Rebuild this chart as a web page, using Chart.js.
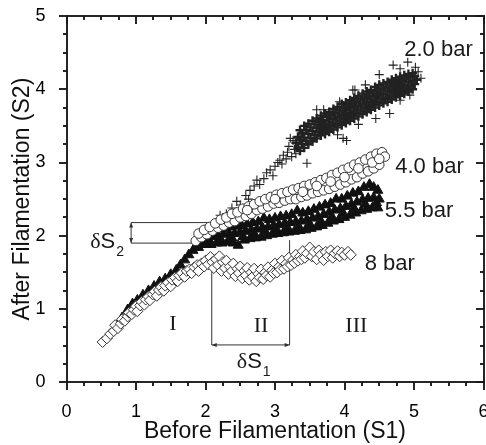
<!DOCTYPE html>
<html><head><meta charset="utf-8">
<script src="https://cdn.jsdelivr.net/npm/chart.js@4/dist/chart.umd.min.js"></script>
<style>html,body{margin:0;padding:0;background:#fff}canvas{display:block}</style>
</head><body>
<canvas id="c" width="486" height="445"></canvas>
<script>
// ---------- data ----------
const seriesNames = ['2.0 bar', '4.0 bar', '5.5 bar', '8 bar'];
const xTickLabels = ['0', '1', '2', '3', '4', '5', '6'];
const yTickLabels = ['0', '1', '2', '3', '4', '5'];
const xTitle = 'Before Filamentation (S1)';
const yTitle = 'After Filamentation (S2)';
const regionLabels = ['I', 'II', 'III'];

// 2.0 bar (+), dense core of the cloud
const bar20Dense = [
 [3.36,3.44],[3.42,3.5],[3.48,3.53],[3.54,3.57],[3.6,3.6],[3.66,3.64],[3.72,3.67],[3.78,3.69],[3.84,3.73],[3.9,3.76],[3.96,3.8],[4.02,3.82],[4.08,3.85],[4.14,3.88],[4.2,3.91],[4.26,3.94],[4.32,3.97],[4.38,3.99],[4.44,4.03],[4.5,4.06],[4.56,4.08],[4.62,4.1],[4.68,4.13],[4.74,4.15],[4.8,4.17],[4.86,4.19],[4.92,4.21],[4.98,4.22],
 [3.33,3.35],[3.39,3.4],[3.45,3.44],[3.51,3.48],[3.57,3.52],[3.63,3.56],[3.69,3.58],[3.75,3.62],[3.81,3.65],[3.87,3.68],[3.93,3.71],[3.99,3.74],[4.05,3.77],[4.11,3.8],[4.17,3.83],[4.23,3.86],[4.29,3.88],[4.35,3.91],[4.41,3.94],[4.47,3.97],[4.53,4.0],[4.59,4.02],[4.65,4.05],[4.71,4.07],[4.77,4.1],[4.83,4.12],[4.89,4.15],[4.95,4.17],[5.01,4.18],
 [3.3,3.27],[3.36,3.31],[3.42,3.34],[3.48,3.39],[3.54,3.43],[3.6,3.47],[3.66,3.5],[3.72,3.53],[3.78,3.56],[3.84,3.59],[3.9,3.62],[3.96,3.65],[4.02,3.68],[4.08,3.71],[4.14,3.74],[4.2,3.77],[4.26,3.8],[4.32,3.83],[4.38,3.86],[4.44,3.89],[4.5,3.92],[4.56,3.94],[4.62,3.97],[4.68,3.99],[4.74,4.02],[4.8,4.04],[4.86,4.06],[4.92,4.09],[4.98,4.11],[5.04,4.13],
 [3.33,3.2],[3.39,3.25],[3.45,3.29],[3.51,3.33],[3.57,3.37],[3.63,3.41],[3.69,3.44],[3.75,3.47],[3.81,3.5],[3.87,3.53],[3.93,3.56],[3.99,3.59],[4.05,3.62],[4.11,3.65],[4.17,3.68],[4.23,3.71],[4.29,3.74],[4.35,3.77],[4.41,3.8],[4.47,3.83],[4.53,3.86],[4.59,3.88],[4.65,3.91],[4.71,3.94],[4.77,3.96],[4.83,3.98],[4.89,4.01],[4.95,4.04],[5.01,4.07],
 [3.36,3.16],[3.42,3.2],[3.48,3.25],[3.54,3.29],[3.6,3.33],[3.66,3.37],[3.72,3.39],[3.78,3.42],[3.84,3.45],[3.9,3.48],[3.96,3.51],[4.02,3.54],[4.08,3.57],[4.14,3.6],[4.2,3.63],[4.26,3.66],[4.32,3.69],[4.38,3.72],[4.44,3.75],[4.5,3.78],[4.56,3.81],[4.62,3.83],[4.68,3.86],[4.74,3.89],[4.8,3.91],[4.86,3.94],[4.92,3.97],[4.98,4.0]
];
// 2.0 bar (+), scattered points around the core
const bar20Sparse = [
 [2.05,2.12],[2.21,2.28],[2.3,2.3],[2.38,2.38],[2.45,2.47],[2.5,2.42],[2.58,2.55],[2.62,2.5],[2.64,2.62],[2.7,2.68],[2.74,2.76],[2.78,2.7],[2.84,2.78],[2.88,2.86],[2.93,2.9],[2.97,2.82],[3.0,2.95],[3.04,3.0],[3.07,3.03],[3.1,2.98],[3.12,3.1],[3.16,3.05],[3.18,3.14],[3.2,3.22],[3.22,3.33],[3.24,3.08],[3.26,3.3],[3.28,3.18],[3.3,3.12],[3.46,2.99],
 [4.03,3.3],[3.98,3.33],[4.12,3.99],[4.15,3.99],[3.93,3.83],[3.7,3.72],[3.6,3.72],[4.3,4.06],[4.5,4.2],[4.65,3.67],[4.8,3.85],[4.94,3.92],[4.7,4.33],[4.91,4.37],[5.06,4.24],[5.02,4.3],[5.1,4.15],[4.8,4.28],[4.45,3.6],[4.2,3.52],[3.9,3.38]
];

// 4.0 bar (open circles)
const bar40 = [
 [1.86,1.93],[1.94,1.98],[2.02,2.02],[2.1,2.07],[2.18,2.11],[2.26,2.14],[2.34,2.18],[2.42,2.2],[2.5,2.25],[2.58,2.27],[2.66,2.3],[2.74,2.35],[2.82,2.37],[2.9,2.4],[2.98,2.44],[3.06,2.45],[3.14,2.48],[3.22,2.5],[3.3,2.5],[3.38,2.53],[3.46,2.55],[3.54,2.58],[3.62,2.6],[3.7,2.62],[3.78,2.64],[3.86,2.67],[3.94,2.7],[4.02,2.73],[4.1,2.77],[4.18,2.8],[4.26,2.85],[4.34,2.88],[4.42,2.92],[4.5,2.97],
 [1.9,2.03],[1.98,2.08],[2.06,2.12],[2.14,2.17],[2.22,2.22],[2.3,2.25],[2.38,2.3],[2.46,2.32],[2.54,2.37],[2.62,2.4],[2.7,2.43],[2.78,2.47],[2.86,2.5],[2.94,2.53],[3.02,2.56],[3.1,2.58],[3.18,2.6],[3.26,2.63],[3.34,2.65],[3.42,2.68],[3.5,2.7],[3.58,2.73],[3.66,2.76],[3.74,2.79],[3.82,2.83],[3.9,2.86],[3.98,2.9],[4.06,2.93],[4.14,2.97],[4.22,3.0],[4.3,3.04],[4.38,3.08],[4.46,3.12],[4.54,3.14],[4.58,3.08],
 [2.6,2.35],[3.0,2.5],[3.4,2.6],[3.6,2.68],[3.8,2.74],[4.0,2.8],[4.2,2.92],[4.4,3.0],[4.5,3.05]
];

// 5.5 bar (filled triangles)
const bar55 = [
 [0.72,0.77],[0.8,0.88],[0.88,0.99],[0.95,1.07],[1.02,1.12],[1.1,1.19],[1.18,1.25],[1.26,1.31],[1.34,1.37],[1.42,1.41],[1.5,1.47],[1.58,1.53],[1.64,1.6],[1.7,1.67],[1.76,1.74],[1.82,1.8],[1.86,1.85],[1.9,1.84],[1.93,1.92],[1.96,1.88],
 [2.0,1.88],[2.08,1.88],[2.16,1.9],[2.24,1.9],[2.32,1.92],[2.4,1.9],[2.47,1.87],[2.56,1.94],[2.64,1.96],[2.72,1.97],[2.8,1.98],[2.88,2.0],[2.96,2.02],[3.04,2.03],[3.12,2.04],[3.2,2.05],[3.28,2.06],[3.36,2.07],[3.44,2.08],[3.52,2.1],[3.6,2.12],[3.68,2.14],[3.76,2.17],[3.84,2.2],[3.92,2.22],[4.0,2.25],[4.08,2.28],[4.16,2.31],[4.24,2.34],[4.32,2.36],[4.4,2.38],[4.48,2.38],
 [2.02,1.97],[2.1,1.99],[2.18,2.0],[2.26,2.02],[2.34,2.03],[2.42,2.03],[2.5,2.05],[2.58,2.06],[2.66,2.08],[2.74,2.09],[2.82,2.11],[2.9,2.12],[2.98,2.14],[3.06,2.15],[3.14,2.17],[3.22,2.18],[3.3,2.19],[3.38,2.2],[3.46,2.22],[3.54,2.24],[3.62,2.26],[3.7,2.29],[3.78,2.32],[3.86,2.35],[3.94,2.37],[4.02,2.4],[4.1,2.43],[4.18,2.46],[4.26,2.49],[4.34,2.51],[4.42,2.52],[4.5,2.5],
 [2.04,2.05],[2.12,2.07],[2.2,2.09],[2.28,2.1],[2.36,2.12],[2.44,2.13],[2.52,2.14],[2.6,2.16],[2.68,2.18],[2.76,2.19],[2.84,2.24],[2.92,2.22],[3.0,2.24],[3.08,2.26],[3.16,2.27],[3.24,2.29],[3.32,2.34],[3.4,2.31],[3.48,2.33],[3.56,2.36],[3.64,2.39],[3.72,2.42],[3.8,2.44],[3.88,2.5],[3.96,2.5],[4.04,2.54],[4.12,2.58],[4.2,2.6],[4.28,2.66],[4.36,2.7],[4.42,2.66],[4.48,2.62],
 [2.06,1.93],[2.22,1.95],[2.38,1.97],[2.54,1.99],[2.7,2.03],[2.86,2.06],[3.02,2.09],[3.18,2.11],[3.34,2.13],[3.5,2.16],[3.66,2.2],[3.82,2.26],[3.98,2.31],[4.14,2.37],[4.3,2.43],[4.46,2.45]
];

// 8 bar (open diamonds)
const bar80 = [
 [0.52,0.55],[0.58,0.6],[0.63,0.66],[0.68,0.7],[0.7,0.78],[0.74,0.74],[0.78,0.8],[0.8,0.86],[0.84,0.84],[0.88,0.9],[0.9,0.95],[0.94,0.93],[0.97,0.99],[1.0,1.04],[1.02,0.97],[1.06,1.05],[1.08,1.1],[1.12,1.06],[1.14,1.13],[1.18,1.17],[1.2,1.12],[1.24,1.2],[1.27,1.24],[1.3,1.18],[1.33,1.26],[1.36,1.3],[1.4,1.25],[1.42,1.32],[1.46,1.36],[1.5,1.31],[1.52,1.4],[1.56,1.43],[1.6,1.38],[1.62,1.46],[1.66,1.49],[1.7,1.44],[1.73,1.52],[1.77,1.54],[1.8,1.49],[1.84,1.57],[1.88,1.6],[1.9,1.52],[1.94,1.62],[1.98,1.58],
 [2.0,1.66],[2.04,1.61],[2.07,1.71],[2.1,1.64],[2.12,1.56],[2.15,1.68],[2.18,1.6],[2.2,1.72],[2.23,1.52],[2.25,1.64],[2.28,1.56],[2.3,1.66],[2.33,1.48],[2.35,1.58],[2.38,1.52],[2.4,1.62],[2.43,1.45],[2.46,1.55],[2.48,1.49],[2.5,1.58],[2.53,1.42],[2.56,1.52],[2.58,1.46],[2.6,1.56],[2.63,1.4],[2.66,1.5],[2.68,1.44],[2.7,1.55],[2.73,1.38],[2.76,1.48],[2.78,1.43],[2.8,1.54],[2.83,1.41],[2.86,1.5],[2.88,1.46],[2.9,1.57],[2.93,1.44],[2.96,1.53],[2.98,1.49],
 [3.0,1.62],[3.03,1.5],[3.06,1.58],[3.08,1.54],[3.1,1.66],[3.13,1.55],[3.16,1.62],[3.18,1.58],[3.2,1.7],[3.23,1.6],[3.26,1.67],[3.28,1.63],[3.3,1.74],[3.33,1.66],[3.36,1.72],[3.38,1.68],[3.4,1.79],[3.43,1.7],[3.46,1.76],[3.5,1.84],[3.53,1.72],[3.56,1.78],[3.6,1.68],[3.63,1.8],[3.66,1.74],[3.7,1.67],[3.73,1.78],[3.76,1.72],[3.8,1.8],[3.83,1.7],[3.86,1.76],[3.9,1.79],[3.93,1.72],[3.96,1.77],[4.0,1.74],[4.05,1.78],[4.09,1.74]
];

// ---------- rendering ----------
const SANS = '"Liberation Sans", Arial, Helvetica, sans-serif';
const SERIF = '"Liberation Serif", "Times New Roman", serif';
const pts = a => a.map(p => ({x: p[0], y: p[1]}));
const bar20 = bar20Dense.concat(bar20Sparse);
const AXIS = '#1a1a1a';

function zeroPad(s) { s.paddingLeft = 0; s.paddingRight = 0; s.paddingTop = 0; s.paddingBottom = 0; }

// frame and ticks, drawn as filled rectangles from the scales
function drawFrame(chart) {
  const {ctx, scales: {x, y}} = chart;
  const X = v => x.getPixelForValue(v), Y = v => y.getPixelForValue(v);
  const L = Math.round(X(0)), R = Math.round(X(6)), B = Math.round(Y(0)), T = Math.round(Y(5));
  const w = 1.5;
  ctx.save();
  ctx.fillStyle = AXIS;
  ctx.fillRect(L - w / 2, T - w / 2, R - L + w, w);
  ctx.fillRect(L - w / 2, B - w / 2, R - L + w, w);
  ctx.fillRect(L - w / 2, T - w / 2, w, B - T + w);
  ctx.fillRect(R - w / 2, T - w / 2, w, B - T + w);
  for (let i = 0; i <= 24; i++) {
    const px = Math.round(X(i / 4)), len = (i % 4 === 0) ? 8 : 4;
    ctx.fillRect(px - w / 2, B, w, len);
    ctx.fillRect(px - w / 2, T, w, len);
  }
  for (let i = 0; i <= 20; i++) {
    const py = Math.round(Y(i / 4)), len = (i % 4 === 0) ? 8 : 4;
    ctx.fillRect(L - len, py - w / 2, len, w);
    ctx.fillRect(R - len, py - w / 2, len, w);
  }
  ctx.restore();
}

const decor = {
  id: 'decor',
  beforeDatasetsDraw(chart) {
    const {ctx, scales: {x, y}} = chart;
    const X = v => x.getPixelForValue(v), Y = v => y.getPixelForValue(v);
    drawFrame(chart);
    ctx.save();
    ctx.strokeStyle = '#333'; ctx.lineWidth = 1;
    const line = (x1, y1, x2, y2) => { ctx.beginPath(); ctx.moveTo(X(x1), Y(y1)); ctx.lineTo(X(x2), Y(y2)); ctx.stroke(); };
    line(0.93, 2.18, 2.16, 2.18);
    line(0.93, 1.90, 1.85, 1.90);
    line(0.93, 1.90, 0.93, 2.18);
    line(2.09, 0.51, 3.21, 0.51);
    line(2.09, 0.51, 2.09, 1.73);
    line(3.21, 0.51, 3.21, 1.94);
    ctx.fillStyle = '#333';
    const arrow = (xv, yv, dir) => {
      const px = X(xv), py = Y(yv);
      ctx.beginPath(); ctx.moveTo(px, py); ctx.lineTo(px - dir * 5, py - 2); ctx.lineTo(px - dir * 5, py + 2); ctx.closePath(); ctx.fill();
    };
    arrow(2.09, 0.51, -1); arrow(3.21, 0.51, 1);
    const varrow = (xv, yv, dir) => {
      const px = X(xv), py = Y(yv);
      ctx.beginPath(); ctx.moveTo(px, py); ctx.lineTo(px - 2, py + dir * 5); ctx.lineTo(px + 2, py + dir * 5); ctx.closePath(); ctx.fill();
    };
    varrow(0.93, 2.18, 1); varrow(0.93, 1.90, -1);
    ctx.restore();
  },
  afterDatasetsDraw(chart) {
    const {ctx, scales: {x, y}} = chart;
    const X = v => x.getPixelForValue(v), Y = v => y.getPixelForValue(v);
    ctx.save();
    ctx.fillStyle = '#1a1a1a';
    ctx.textBaseline = 'alphabetic'; ctx.textAlign = 'left';
    ctx.font = '22px ' + SANS;
    const labPos = [[4.86, 4.45], [4.73, 2.86], [4.58, 2.26], [4.29, 1.53]];
    seriesNames.forEach((s, i) => ctx.fillText(s, X(labPos[i][0]), Y(labPos[i][1])));
    ctx.font = '22px ' + SERIF; ctx.textAlign = 'center';
    const romPos = [[1.53, 0.71], [2.8, 0.69], [4.17, 0.69]];
    regionLabels.forEach((s, i) => ctx.fillText(s, X(romPos[i][0]), Y(romPos[i][1])));
    const delta = (sub, xv, yv) => {
      let px = X(xv); const py = Y(yv);
      ctx.textAlign = 'left';
      ctx.font = '22px ' + SERIF; ctx.fillText('δ', px, py); px += ctx.measureText('δ').width;
      ctx.font = '22px ' + SANS; ctx.fillText('S', px, py); px += ctx.measureText('S').width + 1;
      ctx.font = '14px ' + SANS; ctx.fillText(sub, px, py + 8);
    };
    delta('2', 0.34, 1.83);
    delta('1', 2.45, 0.195);
    ctx.restore();
  },
  afterDraw(chart) { drawFrame(chart); }
};

new Chart(document.getElementById('c'), {
  type: 'scatter',
  data: {
    datasets: [
      {label: seriesNames[3], data: pts(bar80), pointStyle: 'rectRot', pointRadius: 5.5, pointBackgroundColor: '#fff', pointBorderColor: '#333', pointBorderWidth: 1},
      {label: seriesNames[1], data: pts(bar40), pointStyle: 'circle', pointRadius: 4.8, pointBackgroundColor: '#fff', pointBorderColor: '#333', pointBorderWidth: 1},
      {label: seriesNames[2], data: pts(bar55), pointStyle: 'triangle', pointRadius: 5.8, pointBackgroundColor: '#111', pointBorderColor: '#111', pointBorderWidth: 1},
      {label: seriesNames[0], data: pts(bar20), pointStyle: 'cross', pointRadius: 4.5, pointBorderColor: '#222',
       pointBorderWidth: c => c.dataIndex < bar20Dense.length ? 2.4 : 1.1}
    ]
  },
  options: {
    responsive: false, animation: false, devicePixelRatio: 1,
    layout: {autoPadding: false, padding: {top: 16, right: 2.5, left: 0, bottom: 0}},
    plugins: {legend: {display: false}, tooltip: {enabled: false}},
    scales: {
      x: {
        type: 'linear', position: 'bottom', min: 0, max: 6,
        afterFit: s => { s.height = 62.7; zeroPad(s); },
        grid: {display: false}, border: {display: false},
        ticks: {stepSize: 1, padding: 11, color: '#000', maxRotation: 0, autoSkip: false,
                font: {family: SANS, size: 18}, callback: v => xTickLabels[Math.round(v)] ?? ''},
        title: {display: true, text: xTitle, color: '#111', font: {family: SANS, size: 23}, padding: {top: 0, bottom: 0}}
      },
      y: {
        type: 'linear', position: 'left', min: 0, max: 5,
        afterFit: s => { s.width = 66.5; zeroPad(s); },
        grid: {display: false}, border: {display: false},
        ticks: {stepSize: 1, padding: 13, color: '#000', autoSkip: false,
                font: {family: SANS, size: 18}, callback: v => yTickLabels[Math.round(v)] ?? ''},
        title: {display: true, text: yTitle, color: '#111', font: {family: SANS, size: 23}, padding: {top: 9, bottom: 0}}
      }
    }
  },
  plugins: [decor]
});
</script>
</body></html>
